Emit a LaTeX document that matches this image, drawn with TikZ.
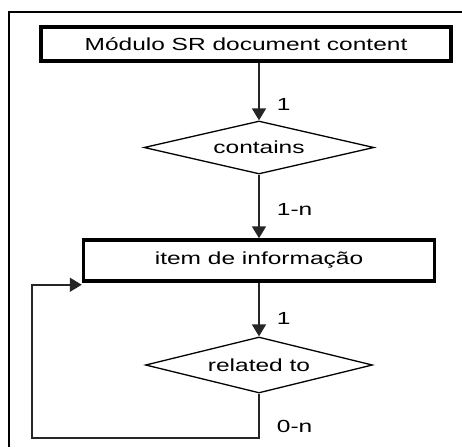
\documentclass[tikz,border=0pt]{standalone}
\usepackage{fontspec}
\setmainfont{Liberation Sans}[FakeStretch=1.4]
\usetikzlibrary{arrows.meta,shapes.geometric}

\tikzset{
  entity/.style={draw, line width=3.5pt, inner sep=0pt,
    font=\fontsize{17.5}{20}\selectfont},
  relation/.style={draw, diamond, line width=1.3pt, inner sep=0pt, aspect=4.3,
    font=\fontsize{17.5}{20}\selectfont},
  link/.style={line width=1.8pt, draw=black!85, -{Triangle[length=12pt,width=14pt]}},
  card/.style={right, xshift=14pt, inner sep=3pt, font=\fontsize{17.5}{20}\selectfont}
}

\begin{document}
\begin{tikzpicture}[x=1pt,y=-1pt]
  \useasboundingbox (0,0) rectangle (462,447);
  \draw[line width=2.5pt] (462,12) -- (9,12) -- (9,447);

  \node[entity, minimum width=410pt, minimum height=34pt] (modulo) at (246,44) {Módulo SR document content};
  \node[relation, minimum width=230pt, minimum height=53pt] (contains) at (259,147.5) {contains};
  \node[entity, minimum width=351pt, minimum height=41pt] (item) at (259,260.5) {item de informação};
  \node[relation, minimum width=227pt, minimum height=56pt] (related) at (259,365) {related to};
  \coordinate (back) at (32,438);

  \draw[link] (modulo.south -| contains.north) -- node[card, pos=0.72] {1} (contains.north);
  \draw[link] (contains.south) -- node[card, pos=0.55] {1-n} (item.north);
  \draw[link] (item.south) -- node[card, pos=0.66] {1} (related.north);
  \draw[link] (related.south) -- node[card, pos=0.73] {0-n} (related.south |- back)
    -- (back) |- ([yshift=-2pt]item.south west);
\end{tikzpicture}
\end{document}
